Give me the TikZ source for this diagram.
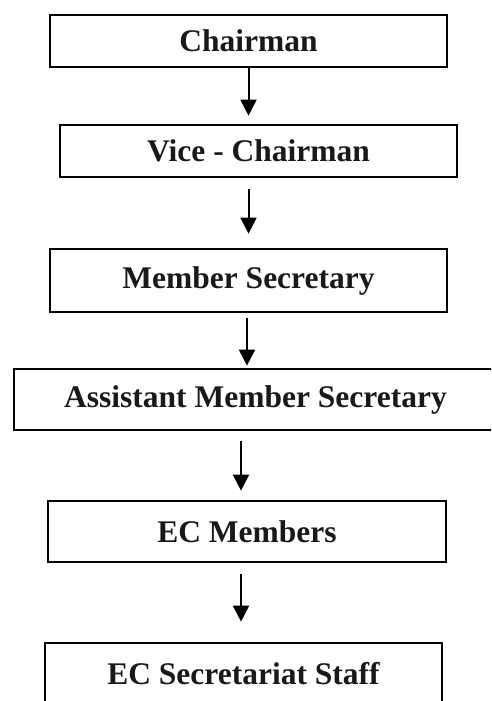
\documentclass[tikz,border=0pt]{standalone}
\usepackage{fontspec}
\setmainfont{Liberation Serif}
\usetikzlibrary{arrows.meta}
\begin{document}
\begin{tikzpicture}[x=1pt, y=-1pt,
  post/.style={draw=black, line width=2.7pt, rectangle, inner sep=0pt,
    font=\fontsize{31.5}{36}\selectfont\bfseries, text=black!90},
  arr/.style={line width=2pt, -{Triangle[width=16pt,length=16pt]}}]
  \useasboundingbox (0,0) rectangle (491,701);
  \clip (0,0) rectangle (491,701);
  \fill[white] (0,0) rectangle (491,701);

  % hierarchy boxes
  \node[post, minimum width=397pt, minimum height=52pt] (chair) at (248.5,41) {Chairman};
  \node[post, minimum width=397pt, minimum height=52pt] (vice) at (258.5,151) {Vice - Chairman};
  \node[post, minimum width=397pt, minimum height=63pt] (ms) at (248.5,280.5) {Member Secretary};
  \node[post, minimum width=483pt, minimum height=61pt] (ams) at (255.5,399.5) {Assistant Member Secretary};
  \node[post, minimum width=398pt, minimum height=61pt] (ecm) at (247,531.5) {EC Members};
  \node[post, minimum width=397pt, minimum height=62pt] (ecss) at (243.5,674) {EC Secretariat Staff};

  % reporting arrows
  \draw[arr, shorten >=8pt] (chair.south) -- (vice.north -| chair.south);
  \draw[arr, shorten <=11pt, shorten >=14pt] (vice.south -| ms.north) -- (ms.north);
  \draw[arr, shorten <=5pt, shorten >=2pt] ([xshift=-1.5pt]ms.south) -- ([xshift=-1.5pt]ams.north -| ms.south);
  \draw[arr, shorten <=10pt, shorten >=9pt] ([xshift=-6pt]ams.south -| ecm.north) -- ([xshift=-6pt]ecm.north);
  \draw[arr, shorten <=11pt, shorten >=20pt] ([xshift=-6pt]ecm.south) -- ([xshift=-6pt]ecss.north -| ecm.south);
\end{tikzpicture}
\end{document}
